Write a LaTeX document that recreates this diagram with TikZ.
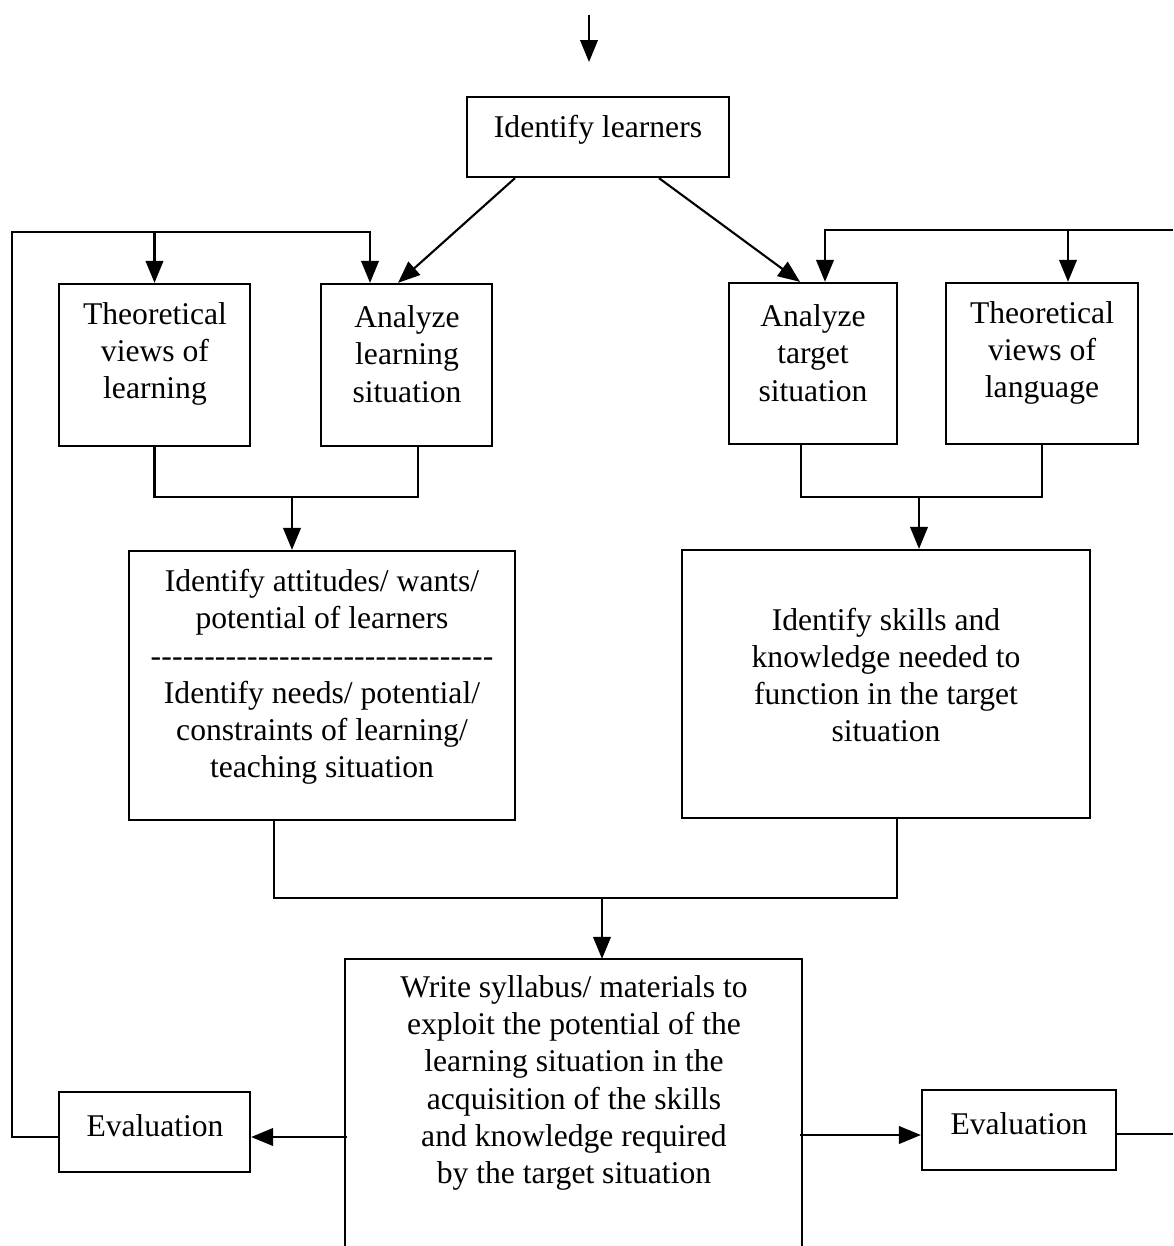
\documentclass[tikz,border=0pt]{standalone}
\usepackage{fontspec}
\setmainfont{Liberation Serif}
\usetikzlibrary{arrows.meta,calc,fit}

\begin{document}
\begin{tikzpicture}[
  x=0.02cm, y=-0.02cm,
  font=\fontsize{18}{21.2}\selectfont,
  >={Triangle[length=12.5pt,width=10pt]},
  panel/.style={draw=black, line width=1.3pt, inner sep=0pt, fit={#1}},
  txt/.style={align=center, inner sep=0pt},
  wire/.style={line width=1.2pt, draw=black},
  arrow/.style={wire, ->}
]
  \useasboundingbox (0,0) rectangle (1173,1246);

  % boxes
  \node[panel={(467,97) (729,177)}] (learners) {};
  \node[panel={(59,284) (250,446)}] (thlearn) {};
  \node[panel={(321,284) (492,446)}] (anlearn) {};
  \node[panel={(729,283) (897,444)}] (antarget) {};
  \node[panel={(946,283) (1138,444)}] (thlang) {};
  \node[panel={(129,551) (515,820)}] (attitudes) {};
  \node[panel={(682,550) (1090,818)}] (skills) {};
  \node[panel={(346,960) (801,1246)}, draw=none] (write) {};
  \draw[line width=1.3pt] (write.south west) |- (write.north east) -- (write.south east);
  \node[panel={(59,1092) (250,1172)}] (evalL) {};
  \node[panel={(922,1090) (1116,1170)}] (evalR) {};

  % texts
  \node[txt] (learnersT) at (598,130) {Identify learners};
  \node[txt] (thlearnT) at (155,354) {Theoretical\\views of\\learning};
  \node[txt] (anlearnT) at (407,354) {Analyze\\learning\\situation};
  \node[txt] (antargetT) at (813,353) {Analyze\\target\\situation};
  \node[txt] (thlangT) at (1042,353) {Theoretical\\views of\\language};
  \node[txt] (attitudesT) at (322,677) {Identify attitudes/ wants/\\potential of learners\\
    \hbox to 6.86cm{\xleaders\hbox{-}\hfill}\\
    Identify needs/ potential/\\constraints of learning/\\teaching situation};
  \node[txt] (skillsT) at (886,675) {Identify skills and\\knowledge needed to\\function in the target\\situation};
  \node[txt] (writeT) at (574,1083) {Write syllabus/ materials to\\exploit the potential of the\\learning situation in the\\acquisition of the skills\\and knowledge required\\by the target situation};
  \node[txt] (evalLT) at (155,1126) {Evaluation};
  \node[txt] (evalRT) at (1019,1124) {Evaluation};

  % connectors
  \coordinate (entry) at (589,15);
  \coordinate (entryend) at (589,62);
  \draw[arrow] (entry) -- (entryend);
  \draw[arrow] ($(learners.south)+(-83,0)$) -- ($(anlearn.north)+(-8.5,0)$);
  \draw[arrow] ($(learners.south)+(61,0)$) -- ($(antarget.north)+(-13,0)$);

  \coordinate (lcorner) at (12,232);
  \draw[arrow] ($(evalL.west)+(0,5)$) -| (lcorner) -| ($(anlearn.north)+(-36.5,0)$);
  \draw[arrow] (thlearn.north |- lcorner) -- (thlearn.north);

  \coordinate (rcorner) at (1173,230);
  \coordinate (langin) at ($(thlang.north)+(26,0)$);
  \draw[arrow] (rcorner) -| ($(antarget.north)+(12,0)$);
  \draw[arrow] (langin |- rcorner) -- (langin);
  \draw[wire] ($(evalR.east)+(0,4)$) -- ($(evalR.east -| rcorner)+(0,4)$);

  \coordinate (lmerge) at (292,497);
  \draw[wire] (thlearn.south) |- (lmerge) -| ($(anlearn.south)+(11.5,0)$);
  \draw[arrow] (lmerge) -- (attitudes.north -| lmerge);

  \coordinate (rmerge) at (919,497);
  \draw[wire] ($(antarget.south)+(-12,0)$) |- (rmerge) -| (thlang.south);
  \draw[arrow] (rmerge) -- (skills.north -| rmerge);

  \coordinate (bmerge) at (602,898);
  \draw[wire] ($(attitudes.south)+(-48,0)$) |- (bmerge) -| ($(skills.south)+(11,0)$);
  \draw[arrow] (bmerge) -- (write.north -| bmerge);

  \draw[arrow] ($(evalL.east)+(96,5)$) -- ($(evalL.east)+(0,5)$);
  \draw[arrow] ($(evalR.west)+(-121,5)$) -- ($(evalR.west)+(0,5)$);
\end{tikzpicture}
\end{document}
